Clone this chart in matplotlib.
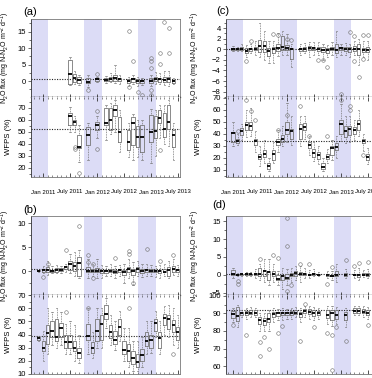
import datetime as dt
import matplotlib
matplotlib.use('Agg')
import matplotlib.pyplot as plt
import matplotlib.dates as mdates
from matplotlib.ticker import FixedLocator, AutoMinorLocator, FuncFormatter

plt.rcParams['font.family'] = ['Liberation Sans', 'DejaVu Sans']
plt.rcParams['mathtext.default'] = 'regular'

# rows: month, whisker low, q1, median, q3, whisker high
a_flux = [
    ('2011-07', -1.3, -1.0, 2.2, 6.4, 7.2), ('2011-08', -0.8, -0.2, 0.8, 2.2, 3.2),
    ('2011-09', -1.2, -0.6, 0.3, 1.3, 2.0), ('2011-11', -1.9, -0.7, -0.2, 0.8, 1.8),
    ('2012-01', -0.3, 0.1, 0.5, 0.8, 1.2), ('2012-03', -0.5, 0.0, 0.4, 0.8, 1.6),
    ('2012-04', -0.3, 0.1, 0.7, 1.3, 2.4), ('2012-05', -0.5, 0.1, 0.8, 1.9, 4.9),
    ('2012-06', -0.8, 0.0, 0.6, 1.1, 1.8), ('2012-08', -1.5, -0.5, 0.1, 0.5, 1.2),
    ('2012-09', -1.0, -0.2, 0.5, 1.0, 2.0), ('2012-10', -1.5, -0.5, 0.0, 0.5, 1.3),
    ('2012-11', -1.3, -0.5, 0.0, 0.3, 1.0), ('2013-01', -1.5, -0.7, 0.1, 0.8, 2.0),
    ('2013-02', -1.0, 0.0, 0.7, 1.3, 2.8), ('2013-03', -1.0, -0.2, 0.5, 1.0, 2.5),
    ('2013-04', -1.3, -0.4, 0.3, 1.3, 3.0), ('2013-05', -1.5, -0.2, 0.7, 1.3, 3.0),
    ('2013-06', -1.0, -0.6, 0.0, 0.4, 1.0)]
a_flux_out = {'2011-11': [-2.8], '2012-01': [2.3], '2012-08': [15.2, -1.8], '2012-09': [6.2],
              '2012-10': [-3.4], '2012-11': [-4.1], '2013-01': [7.0, 6.0, 4.0, -2.7, -4.1],
              '2013-03': [8.6, 5.3], '2013-04': [18.0], '2013-05': [16.0, 8.5]}
a_wfps = [
    ('2011-07', 50, 55.8, 63.3, 65.6, 71), ('2011-08', 50, 55.8, 58.6, 60, 63),
    ('2011-09', 25, 36.4, 37.2, 47.5, 55.8), ('2011-11', 26.7, 39.2, 47.5, 54.4, 57),
    ('2012-01', 45, 51.7, 55.8, 58.6, 63), ('2012-03', 43, 55.8, 57.2, 70, 72),
    ('2012-04', 48, 51.7, 60, 69.7, 74), ('2012-05', 50, 62.8, 68.3, 72.5, 76.7),
    ('2012-06', 33.6, 42, 50.3, 62.2, 68), ('2012-08', 29.4, 35, 42, 51.7, 57),
    ('2012-09', 26.7, 39.2, 57.2, 62.2, 65), ('2012-10', 29.4, 37.8, 46, 55, 60),
    ('2012-11', 26.7, 33.6, 46, 55.8, 60), ('2013-01', 24, 42, 50.3, 64, 69),
    ('2013-02', 30, 44.7, 51, 62.8, 68), ('2013-03', 45, 57.2, 61.4, 68.3, 72),
    ('2013-04', 40, 46, 52.2, 65.6, 72), ('2013-05', 38, 52.2, 58.6, 72.5, 76.7),
    ('2013-06', 26.7, 37.8, 47.5, 51.7, 57)]
a_wfps_out = {'2011-08': [37.8, 35.6], '2011-09': [15.6], '2012-01': [67, 35.6], '2013-03': [35]}

b_flux = [
    ('2010-12', -0.1, 0.0, 0.1, 0.2, 0.3), ('2011-01', -0.5, -0.1, 0.2, 0.4, 1.0),
    ('2011-02', -0.8, -0.2, 0.3, 0.8, 2.0), ('2011-03', -0.5, -0.1, 0.0, 0.3, 1.0),
    ('2011-04', -0.5, -0.1, 0.3, 0.6, 1.2), ('2011-05', -0.5, 0.0, 0.3, 0.6, 1.0),
    ('2011-06', -0.3, 0.4, 0.8, 1.0, 1.5), ('2011-07', -0.5, 0.2, 1.4, 2.0, 3.5),
    ('2011-08', -1.0, 0.0, 1.0, 1.8, 4.0), ('2011-09', -1.5, -1.0, 1.7, 3.0, 4.5),
    ('2011-11', -1.5, -0.3, 0.1, 0.8, 2.5), ('2011-12', -1.0, -0.2, 0.1, 0.5, 1.5),
    ('2012-01', -1.5, -0.3, 0.1, 0.6, 2.5), ('2012-02', -1.5, -0.5, 0.0, 0.3, 1.2),
    ('2012-03', -1.0, -0.4, 0.0, 0.3, 1.0), ('2012-04', -1.0, -0.3, 0.0, 0.4, 1.5),
    ('2012-05', -1.5, -0.5, -0.1, 0.2, 1.0), ('2012-06', -1.0, -0.2, 0.2, 0.5, 1.2),
    ('2012-07', -2.5, -0.8, -0.1, 0.3, 1.5), ('2012-08', -1.5, -0.3, 0.4, 0.8, 2.5),
    ('2012-09', -3.0, -0.8, 0.0, 0.5, 1.8), ('2012-10', -1.0, -0.3, 0.5, 0.8, 2.0),
    ('2012-11', -1.2, -0.4, 0.0, 0.4, 1.5), ('2012-12', -1.0, -0.3, 0.2, 0.5, 1.5),
    ('2013-01', -1.0, -0.3, 0.1, 0.4, 1.3), ('2013-02', -1.2, -0.3, 0.0, 0.3, 1.0),
    ('2013-03', -1.5, -0.5, 0.1, 0.3, 1.2), ('2013-04', -1.0, -0.3, -0.2, 0.5, 1.5),
    ('2013-05', -1.5, -1.0, 0.3, 0.8, 2.0), ('2013-06', -0.8, -0.2, 0.5, 1.0, 2.5),
    ('2013-07', -1.0, -0.3, 0.2, 0.5, 1.2)]
b_flux_out = {'2011-01': [-1.2], '2011-02': [1.5], '2011-06': [4.5], '2011-09': [9.5],
              '2011-11': [3.3, 1.8], '2011-12': [1.5, -1.5], '2012-05': [2.7],
              '2012-08': [4.2, 3.5], '2012-09': [-2.5], '2012-12': [4.7], '2013-03': [2.0],
              '2013-06': [3.4]}
b_wfps = [
    ('2010-12', 35, 36, 37, 38, 39), ('2011-01', 20, 27, 30, 35, 43),
    ('2011-02', 25, 33, 41, 47, 60), ('2011-03', 32, 38, 43, 50, 57),
    ('2011-04', 30, 35, 38, 52, 60), ('2011-05', 32, 38, 45, 49, 57),
    ('2011-06', 25, 30, 34, 40, 48), ('2011-07', 25, 30, 34, 40, 50),
    ('2011-08', 20, 27, 30, 35, 47), ('2011-09', 18, 22, 26, 30, 40),
    ('2011-11', 25, 36, 39, 48, 60), ('2011-12', 22, 26, 30, 34, 42),
    ('2012-01', 30, 35, 43, 52, 60), ('2012-02', 30, 36, 48, 55, 60),
    ('2012-03', 45, 52, 56, 63, 68), ('2012-04', 32, 37, 42, 47, 55),
    ('2012-05', 28, 33, 36, 43, 50), ('2012-06', 35, 40, 46, 52, 58),
    ('2012-07', 20, 25, 28, 35, 45), ('2012-08', 15, 20, 27, 33, 45),
    ('2012-09', 12, 17, 22, 27, 35), ('2012-10', 12, 15, 19, 25, 35),
    ('2012-11', 15, 20, 24, 29, 38), ('2012-12', 25, 31, 35, 42, 50),
    ('2013-01', 26, 30, 36, 40, 50), ('2013-02', 38, 43, 49, 52, 58),
    ('2013-03', 25, 30, 37, 42, 50), ('2013-04', 40, 47, 53, 56, 62),
    ('2013-05', 38, 44, 52, 55, 63), ('2013-06', 32, 42, 47, 51, 60),
    ('2013-07', 30, 36, 42, 46, 55)]
b_wfps_out = {'2011-06': [57], '2011-11': [60], '2012-08': [60], '2013-06': [25]}

c_flux = [
    ('2011-01', -0.3, -0.1, 0.1, 0.3, 0.6), ('2011-02', -0.4, -0.2, 0.0, 0.2, 0.4),
    ('2011-03', -0.3, -0.1, 0.1, 0.4, 1.0), ('2011-04', -1.5, -0.8, -0.3, 0.2, 0.8),
    ('2011-05', -0.8, -0.3, 0.0, 0.3, 1.0), ('2011-06', -1.0, -0.2, 0.1, 0.5, 1.5),
    ('2011-07', -1.5, -0.5, 0.6, 1.8, 5.0), ('2011-08', -2.0, -0.5, 0.7, 1.5, 3.5),
    ('2011-09', -2.5, -1.3, -0.3, 0.3, 1.5), ('2011-10', -2.5, -0.8, 0.0, 0.5, 1.5),
    ('2011-11', -1.3, -0.3, 0.2, 1.0, 3.0), ('2011-12', -1.0, -0.2, 0.5, 2.5, 3.5),
    ('2012-01', -1.0, -0.2, 0.3, 0.8, 2.8), ('2012-02', -3.3, -1.8, 0.0, 0.2, 1.0),
    ('2012-04', -1.0, -0.3, 0.0, 0.3, 1.0), ('2012-05', -0.8, -0.3, 0.1, 0.5, 1.2),
    ('2012-06', -1.5, -0.2, 0.2, 0.6, 1.3), ('2012-07', -1.0, -0.2, 0.2, 0.5, 1.3),
    ('2012-08', -1.0, -0.3, 0.1, 0.5, 1.4), ('2012-09', -2.0, -0.5, -0.1, 0.4, 1.0),
    ('2012-10', -1.5, -0.8, -0.2, 0.3, 0.8), ('2012-11', -1.0, -0.2, 0.0, 0.5, 1.3),
    ('2012-12', -1.5, -0.8, -0.1, 1.0, 3.5), ('2013-01', -1.0, -0.2, 0.3, 0.5, 1.0),
    ('2013-02', -1.0, -0.3, 0.0, 0.4, 1.2), ('2013-03', -1.5, -0.5, 0.0, 0.5, 1.0),
    ('2013-04', -1.0, -0.3, 0.1, 0.6, 1.5), ('2013-05', -3.0, -1.0, 0.0, 1.0, 2.0),
    ('2013-06', -1.5, -0.5, -0.1, 0.3, 1.5), ('2013-07', -2.0, -0.5, -0.1, 0.5, 1.5)]
c_flux_out = {'2011-04': [-2.3], '2011-05': [1.5], '2011-10': [2.8], '2011-11': [2.7],
              '2012-01': [1.9], '2012-02': [1.8], '2012-08': [-2.0], '2012-09': [-2.1],
              '2012-10': [-3.3], '2013-01': [-8.4], '2013-03': [3.3], '2013-04': [-2.2, 2.5],
              '2013-05': [-5.3], '2013-06': [-1.8, 2.6], '2013-07': [2.7]}
c_wfps = [
    ('2011-01', 30, 33.3, 41, 41.7, 50), ('2011-02', 31, 32.5, 34, 36, 40),
    ('2011-03', 35, 39, 42, 45, 48), ('2011-04', 37, 43, 47.8, 50, 60),
    ('2011-05', 38, 43, 47, 50, 62), ('2011-06', 25, 30.5, 34, 36, 42),
    ('2011-07', 13, 19, 21, 23.6, 30), ('2011-08', 16, 21, 23, 26.4, 35),
    ('2011-09', 9, 11, 13.3, 16, 20), ('2011-10', 16, 18, 23, 26.4, 33),
    ('2011-11', 25, 30.5, 33, 36, 43), ('2011-12', 30, 33, 36, 39, 47),
    ('2012-01', 33, 40, 43, 50, 66), ('2012-02', 31, 36, 42, 44, 55),
    ('2012-04', 30, 36, 44, 48.6, 55), ('2012-05', 36, 43, 46, 49, 55),
    ('2012-06', 22, 28, 30.5, 33, 38), ('2012-07', 17, 21, 24, 27, 33),
    ('2012-08', 15, 19.4, 22, 25, 30), ('2012-09', 9, 11, 12.5, 15.3, 20),
    ('2012-10', 16, 19.4, 21, 22.8, 27), ('2012-11', 18, 22, 28, 30, 35),
    ('2012-12', 20, 26.4, 29, 32, 38), ('2013-01', 34, 40.3, 48.6, 51.4, 65),
    ('2013-02', 32, 37.5, 42, 47, 55), ('2013-03', 33, 39, 44.4, 47, 55),
    ('2013-04', 35, 40.3, 43, 45.8, 52), ('2013-05', 38, 43, 48.6, 51.4, 60),
    ('2013-06', 26, 32, 34, 36, 40), ('2013-07', 15, 18, 21, 23.6, 28)]
c_wfps_out = {'2011-02': [42], '2011-04': [68], '2011-05': [59], '2011-06': [52],
              '2011-11': [43], '2012-01': [56], '2012-04': [63], '2012-06': [38.5],
              '2012-10': [38], '2013-01': [68], '2013-03': [63, 60], '2013-06': [22]}

d_flux = [
    ('2011-01', -1.0, -0.2, 0.3, 1.2, 2.0), ('2011-02', -0.5, -0.1, 0.0, 0.2, 0.5),
    ('2011-03', -0.3, -0.1, 0.1, 0.3, 0.6), ('2011-04', -0.3, 0.0, 0.2, 0.4, 0.7),
    ('2011-05', -0.5, -0.1, 0.1, 0.3, 0.8), ('2011-06', -1.0, -0.2, 0.1, 0.6, 1.5),
    ('2011-07', -1.5, -0.3, 0.3, 1.8, 3.0), ('2011-08', -2.0, -0.3, 1.0, 1.3, 4.5),
    ('2011-09', -3.0, -1.5, 0.8, 1.0, 4.5), ('2011-10', -2.0, -0.5, 0.2, 1.0, 3.0),
    ('2011-11', -3.0, -1.5, -1.2, -0.2, 1.0), ('2011-12', -4.0, -1.5, -0.5, 0.0, 2.0),
    ('2012-01', -3.0, -1.2, -0.8, 0.2, 1.5), ('2012-02', -2.0, -0.5, 0.0, 0.5, 2.0),
    ('2012-03', -1.5, -0.3, 0.5, 1.0, 2.5), ('2012-04', -2.0, 0.0, 0.3, 0.8, 2.5),
    ('2012-05', -1.0, -0.2, 0.2, 0.6, 2.0), ('2012-06', -0.8, -0.2, 0.0, 0.3, 1.2),
    ('2012-07', -0.5, -0.1, 0.1, 0.4, 1.5), ('2012-08', -0.5, -0.2, 0.0, 0.2, 0.8),
    ('2012-10', -1.0, -0.3, -0.1, 0.2, 1.0), ('2012-11', -1.5, -0.5, -0.3, 0.0, 1.0),
    ('2012-12', -2.0, -0.5, 0.0, 1.0, 3.0), ('2013-02', -1.0, -0.3, 0.0, 0.5, 1.5),
    ('2013-04', -0.8, -0.2, 0.0, 0.3, 1.2), ('2013-05', -1.5, -0.6, -0.1, 0.3, 2.0),
    ('2013-06', -0.6, -0.2, 0.0, 0.4, 1.3), ('2013-07', -1.0, -0.3, 0.0, 0.5, 1.5)]
d_flux_out = {'2011-02': [-2.5, -1.8], '2011-07': [4.3], '2011-10': [5.5], '2011-11': [4.8],
              '2012-01': [16.0, 8.0, -4.5], '2012-02': [-3.0], '2012-04': [3.0],
              '2012-06': [3.0], '2012-10': [-2.5], '2012-11': [2.2], '2013-02': [4.0],
              '2013-04': [2.5], '2013-05': [3.2], '2013-07': [3.5]}
d_wfps = [
    ('2011-01', 85, 87.5, 89.5, 91.5, 93), ('2011-02', 82, 85.5, 88.5, 93.5, 95),
    ('2011-03', 88, 89, 90, 91, 92), ('2011-04', 87, 89, 90, 91.5, 93),
    ('2011-05', 88, 89.5, 90.5, 92, 93.5), ('2011-06', 88, 89, 90.5, 92, 93),
    ('2011-07', 80, 84, 86, 88, 90), ('2011-08', 80, 83.5, 85.5, 87.5, 90),
    ('2011-09', 80, 85, 87, 90.5, 92), ('2011-10', 85, 88, 89.5, 91, 93),
    ('2011-11', 86, 88.5, 90, 91, 92.5), ('2011-12', 86, 89, 90, 91, 93),
    ('2012-01', 87, 89, 90, 91, 92.5), ('2012-02', 87, 89, 90.5, 91.5, 93),
    ('2012-03', 88, 89.5, 90.5, 92, 93.5), ('2012-04', 85, 88, 89.5, 91, 93),
    ('2012-05', 88, 90, 91.5, 92.5, 94), ('2012-06', 87, 89.5, 91, 92.5, 94),
    ('2012-07', 86, 88.5, 90, 92, 93.5), ('2012-08', 87, 89, 90.5, 91.5, 93),
    ('2012-10', 84, 87.5, 89, 92, 94), ('2012-11', 83, 86.5, 90, 92, 94),
    ('2012-12', 84, 87, 89, 92, 93.5), ('2013-02', 82, 86, 89, 91, 93),
    ('2013-04', 89, 90.5, 91.5, 93, 94), ('2013-05', 89, 90.5, 91.5, 93, 94.5),
    ('2013-06', 88, 90, 91, 92.5, 94), ('2013-07', 87, 89, 90.5, 92, 93.5)]
d_wfps_out = {'2011-01': [83.5], '2011-04': [78], '2011-07': [74, 65.5], '2011-08': [76.5],
              '2011-09': [69.5], '2011-11': [79], '2011-12': [83], '2012-04': [74.5],
              '2012-05': [95.5], '2012-07': [82], '2012-10': [79], '2012-11': [57.5, 78],
              '2012-12': [82], '2013-02': [74.5], '2013-07': [83.5]}

# mean lines (flux, WFPS)
means = {'a': (0.7, 52.5), 'b': (0.4, 39), 'c': (0.0, 34), 'd': (0.1, 92)}

W, H = 372, 378
SHADE = '#dcdcf6'
GREY = '#777777'


def mdate(s, day=1):
    y, m = s.split('-')
    return dt.date(int(y), int(m), day)


def fmt_date(x, pos=None):
    d = mdates.num2date(x)
    return ('Jan ' if d.month == 1 else 'July ') + str(d.year)


def draw_boxes(ax, rows, out):
    stats = [dict(med=md, q1=q1, q3=q3, whislo=lo, whishi=hi, fliers=out.get(m, []))
             for m, lo, q1, md, q3, hi in rows]
    pos = [mdates.date2num(mdate(r[0])) for r in rows]
    ax.bxp(stats, positions=pos, widths=22, manage_ticks=False, capwidths=9,
           boxprops=dict(color=GREY, lw=0.6),
           medianprops=dict(color='black', lw=1.3, solid_capstyle='butt'),
           whiskerprops=dict(color=GREY, lw=0.6, ls=(0, (1, 1))),
           capprops=dict(color=GREY, lw=0.5),
           flierprops=dict(marker='o', mfc='none', mec=GREY, ms=2.6, mew=0.45))


def style(ax, xlim, shades, ylim, yticks, mean, top, show_dates=True):
    for s, e in shades:
        ax.axvspan(mdates.date2num(s), mdates.date2num(e), color=SHADE, lw=0, zorder=0)
    ax.axhline(mean, color='#222222', lw=0.8, ls=(0, (1, 1.3)), zorder=1)
    ax.set_xlim(mdates.date2num(xlim[0]), mdates.date2num(xlim[1]))
    ax.set_ylim(*ylim)
    ax.yaxis.set_major_locator(FixedLocator(yticks))
    ax.yaxis.set_minor_locator(AutoMinorLocator(2))
    ax.xaxis.set_major_locator(mdates.MonthLocator(bymonth=[1, 7]))
    ax.xaxis.set_minor_locator(mdates.MonthLocator())
    ax.xaxis.set_major_formatter(FuncFormatter(fmt_date))
    ax.tick_params(axis='y', labelsize=5.5, length=2.2, width=0.5, pad=1.5, color='#333333')
    ax.tick_params(axis='y', which='minor', length=1.2, width=0.4)
    for sp in ax.spines.values():
        sp.set_color(GREY)
        sp.set_linewidth(0.6)
    ax.spines['left'].set_color('#333333')
    if top:
        ax.spines['bottom'].set_color('black')
        ax.spines['bottom'].set_linewidth(0.9)
        ax.tick_params(axis='x', which='both', labelbottom=False, direction='inout',
                       color='#333333')
        ax.tick_params(axis='x', which='major', length=4, width=0.6)
        ax.tick_params(axis='x', which='minor', length=2, width=0.4)
    else:
        ax.spines['top'].set_visible(False)
        ax.tick_params(axis='x', which='both', top=True, direction='in', color='#333333',
                       labelsize=4.3, pad=9, labelbottom=show_dates)
        ax.tick_params(axis='x', which='major', length=3, width=0.6)
        ax.tick_params(axis='x', which='minor', length=1.6, width=0.4)


fig = plt.figure(figsize=(W / 100, H / 100), dpi=100)


def px_axes(x0, y0, x1, y1):
    return fig.add_axes([x0 / W, 1 - y1 / H, (x1 - x0) / W, (y1 - y0) / H])


left_x = (31, 180)
right_x = (226, 375)
left_lim = (dt.date(2010, 10, 10), dt.date(2013, 7, 16))
right_lim = (dt.date(2010, 11, 15), dt.date(2013, 8, 19))
left_shade = [(dt.date(2010, 10, 1), dt.date(2011, 2, 1)), (dt.date(2011, 10, 1), dt.date(2012, 2, 1)),
              (dt.date(2012, 10, 1), dt.date(2013, 2, 1))]
right_shade = [(dt.date(2010, 11, 15), dt.date(2011, 3, 10)), (dt.date(2011, 11, 15), dt.date(2012, 3, 10)),
               (dt.date(2012, 11, 15), dt.date(2013, 3, 10))]

panels = [
    ('(a)', left_x, (19, 97, 177), left_lim, left_shade, a_flux, a_flux_out, (-4.8, 18.8), [0, 5, 10, 15],
     a_wfps, a_wfps_out, (12.5, 79), [20, 30, 40, 50, 60, 70], 'a', (23, 12), True),
    ('(b)', left_x, (216, 295, 374), left_lim, left_shade, b_flux, b_flux_out, (-5, 11.5), [0, 5, 10],
     b_wfps, b_wfps_out, (9.7, 70.3), [10, 20, 30, 40, 50, 60, 70], 'b', (23, 210), False),
    ('(c)', right_x, (19, 97, 177), right_lim, right_shade, c_flux, c_flux_out, (-9.0, 5.7),
     [-8, -6, -4, -2, 0, 2, 4], c_wfps, c_wfps_out, (4, 70.8), [10, 20, 30, 40, 50, 60, 70], 'c',
     (216, 11), True),
    ('(d)', right_x, (216, 295, 374), right_lim, right_shade, d_flux, d_flux_out, (-5.7, 16.5),
     [-5, 0, 5, 10, 15], d_wfps, d_wfps_out, (55.5, 100.5), [60, 70, 80, 90, 100], 'd',
     (212, 205), False),
]

for (lab, (x0, x1), (yt, ym, yb), xlim, shades, fl, flo, fyl, fyt,
     wf, wfo, wyl, wyt, key, (lx, ly), dates) in panels:
    ax1 = px_axes(x0, yt, x1, ym)
    ax2 = px_axes(x0, ym, x1, yb)
    draw_boxes(ax1, fl, flo)
    draw_boxes(ax2, wf, wfo)
    style(ax1, xlim, shades, fyl, fyt, means[key][0], True)
    style(ax2, xlim, shades, wyl, wyt, means[key][1], False, dates)
    lbl_x = -0.125 if x0 < 100 else -0.16
    ax1.set_ylabel(r'N$_2$O flux (mg N-N$_2$O m$^{-2}$ d$^{-1}$)', fontsize=5.0)
    ax2.set_ylabel('WFPS (%)', fontsize=5.6)
    ax1.yaxis.set_label_coords(lbl_x, 0.5)
    ax2.yaxis.set_label_coords(lbl_x, 0.5)
    fig.text(lx / W, 1 - ly / H, lab, fontsize=8, ha='left', va='center')

fig.savefig('out.png', dpi=100)
